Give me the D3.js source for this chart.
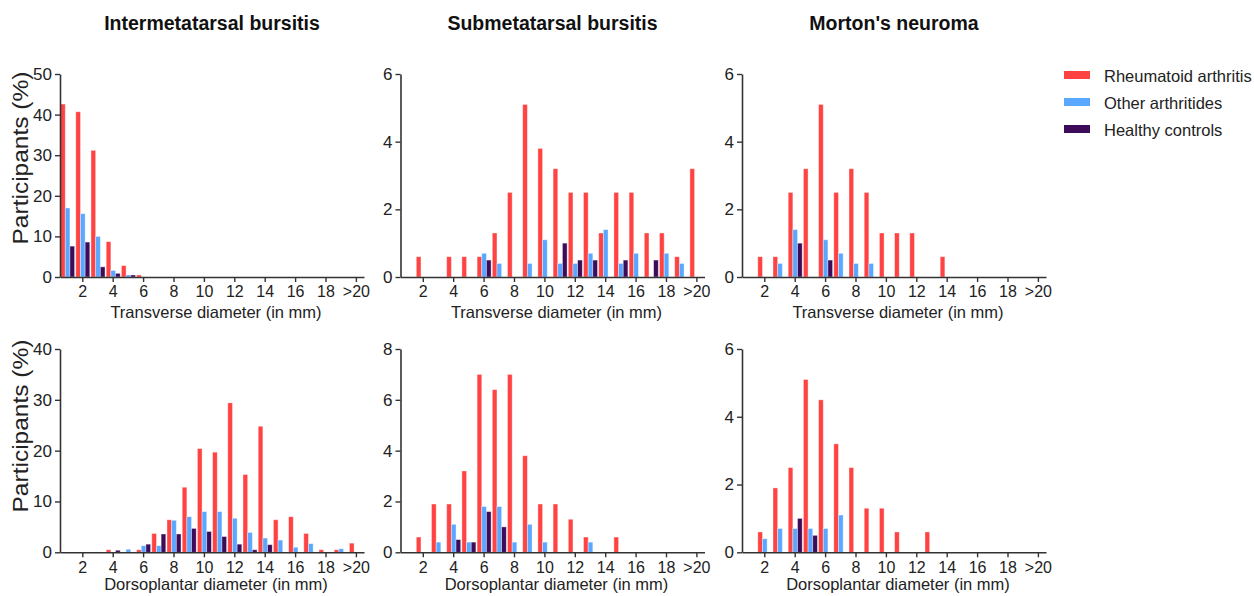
<!DOCTYPE html>
<html>
<head>
<meta charset="utf-8">
<script src="https://cdn.jsdelivr.net/npm/d3@7"></script>
<style>
  html, body { margin: 0; padding: 0; background: #fff; }
  svg { display: block; font-family: "Liberation Sans", Arial, sans-serif; }
</style>
</head>
<body>
<svg id="chart" width="1254" height="596"></svg>
<script>
// ---------- data ----------
const categories = [1,2,3,4,5,6,7,8,9,10,11,12,13,14,15,16,17,18,19,20];
const tickCategories = [2,4,6,8,10,12,14,16,18,20];
const tickLabels = ["2","4","6","8","10","12","14","16","18",">20"];
const seriesNames = ["Rheumatoid arthritis", "Other arthritides", "Healthy controls"];
const columnTitles = ["Intermetatarsal bursitis", "Submetatarsal bursitis", "Morton's neuroma"];
const rowAxisLabels = ["Transverse diameter (in mm)", "Dorsoplantar diameter (in mm)"];
const yLabel = "Participants (%)";

// Intermetatarsal bursitis – transverse
const imbTransRA = [42.6,40.7,31.2,8.7,2.8,0.5,0,0,0,0,0,0,0,0,0,0,0,0,0,0];
const imbTransOA = [17.0,15.6,10.0,1.6,0.5,0,0,0,0,0,0,0,0,0,0,0,0,0,0,0];
const imbTransHC = [7.6,8.6,2.5,0.9,0.5,0,0,0,0,0,0,0,0,0,0,0,0,0,0,0];
// Submetatarsal bursitis – transverse
const smbTransRA = [0,0.6,0,0.6,0.6,0.6,1.3,2.5,5.1,3.8,3.2,2.5,2.5,1.3,2.5,2.5,1.3,1.3,0.6,3.2];
const smbTransOA = [0,0,0,0,0,0.7,0.4,0,0.4,1.1,0.4,0.4,0.7,1.4,0.4,0.7,0,0.7,0.4,0];
const smbTransHC = [0,0,0,0,0,0.5,0,0,0,0,1.0,0.5,0.5,0,0.5,0,0.5,0,0,0];
// Morton's neuroma – transverse
const mnTransRA = [0,0.6,0.6,2.5,3.2,5.1,2.5,3.2,2.5,1.3,1.3,1.3,0,0.6,0,0,0,0,0,0];
const mnTransOA = [0,0,0.4,1.4,0,1.1,0.7,0.4,0.4,0,0,0,0,0,0,0,0,0,0,0];
const mnTransHC = [0,0,0,1.0,0,0.5,0,0,0,0,0,0,0,0,0,0,0,0,0,0];
// Intermetatarsal bursitis – dorsoplantar
const imbDorsRA = [0,0,0,0.5,0,0.5,3.7,6.4,12.8,20.4,19.7,29.4,15.3,24.8,6.4,7.0,3.7,0.5,0.5,1.8];
const imbDorsOA = [0,0,0,0,0.6,1.3,1.3,6.3,7.0,8.0,8.0,6.7,3.9,2.8,2.4,1.0,1.7,0,0.7,0];
const imbDorsHC = [0,0,0,0.4,0,1.6,3.6,3.6,4.7,4.1,3.1,1.6,0.5,1.5,0,0,0,0,0,0];
// Submetatarsal bursitis – dorsoplantar
const smbDorsRA = [0,0.6,1.9,1.9,3.2,7.0,6.4,7.0,3.8,1.9,1.9,1.3,0.6,0,0.6,0,0,0,0,0];
const smbDorsOA = [0,0,0.4,1.1,0.4,1.8,1.8,0.4,1.1,0.4,0,0,0.4,0,0,0,0,0,0,0];
const smbDorsHC = [0,0,0,0.5,0.4,1.6,1.0,0,0,0,0,0,0,0,0,0,0,0,0,0];
// Morton's neuroma – dorsoplantar
const mnDorsRA = [0,0.6,1.9,2.5,5.1,4.5,3.2,2.5,1.3,1.3,0.6,0,0.6,0,0,0,0,0,0,0];
const mnDorsOA = [0,0.4,0.7,0.7,0.7,0.7,1.1,0,0,0,0,0,0,0,0,0,0,0,0,0];
const mnDorsHC = [0,0,0,1.0,0.5,0,0,0,0,0,0,0,0,0,0,0,0,0,0,0];

const yMax = [[50,6,6],[40,8,6]];
const yTicks = [[[0,10,20,30,40,50],[0,2,4,6],[0,2,4,6]],
                [[0,10,20,30,40],[0,2,4,6,8],[0,2,4,6]]];
const panelData = [
  [[imbTransRA,imbTransOA,imbTransHC],[smbTransRA,smbTransOA,smbTransHC],[mnTransRA,mnTransOA,mnTransHC]],
  [[imbDorsRA,imbDorsOA,imbDorsHC],[smbDorsRA,smbDorsOA,smbDorsHC],[mnDorsRA,mnDorsOA,mnDorsHC]]
];

// ---------- layout ----------
const colors = ["#ff4343", "#5aa7ff", "#3c0b59"];
const axisColor = "#333";
const panelLeft = [60, 400.5, 742];
const panelW = 304;
const rowTop = [74, 349];
const rowBottom = [277, 552.3];
const labelCenterY = [158, 426];
const axisLabelBaseline = [317.5, 590];

const svg = d3.select("#chart");

// column titles
columnTitles.forEach((t, c) => {
  svg.append("text")
    .attr("x", panelLeft[c] + panelW / 2)
    .attr("y", 29.5)
    .attr("text-anchor", "middle")
    .attr("font-size", 19.5)
    .attr("font-weight", "bold")
    .attr("fill", "#111")
    .text(t);
});

for (let r = 0; r < 2; r++) {
  for (let c = 0; c < 3; c++) {
    const x0 = panelLeft[c];
    const x = d3.scaleBand()
      .domain(categories)
      .range([x0, x0 + panelW])
      .paddingInner(0.08)
      .paddingOuter(0.04);
    const xs = d3.scaleBand()
      .domain([0,1,2])
      .range([0, x.bandwidth()]);
    const y = d3.scaleLinear()
      .domain([0, yMax[r][c]])
      .range([rowBottom[r], rowTop[r]]);

    const g = svg.append("g");

    // bars
    panelData[r][c].forEach((vals, s) => {
      g.append("g").selectAll("rect")
        .data(categories.map((cat, i) => ({cat, v: vals[i]})).filter(d => d.v > 0))
        .join("rect")
        .attr("x", d => x(d.cat) + xs(s))
        .attr("width", xs.bandwidth())
        .attr("y", d => y(d.v))
        .attr("height", d => y(0) - y(d.v))
        .attr("fill", colors[s])
        .attr("stroke", "#fff")
        .attr("stroke-opacity", 0.45)
        .attr("stroke-width", 0.8);
    });

    // x axis
    const xAxis = d3.axisBottom(x)
      .tickValues(tickCategories)
      .tickFormat((d, i) => tickLabels[i])
      .tickSize(5)
      .tickSizeOuter(0)
      .tickPadding(4);
    const gx = g.append("g")
      .attr("transform", `translate(0,${rowBottom[r]})`)
      .call(xAxis);
    gx.select(".domain").attr("stroke", axisColor).attr("stroke-width", 1.6);
    gx.selectAll(".tick line").attr("stroke", axisColor).attr("stroke-width", 1.4);
    gx.selectAll(".tick text")
      .attr("font-size", 16)
      .attr("fill", "#222")
      .attr("font-family", "Liberation Sans, Arial, sans-serif");

    // y axis
    const yAxis = d3.axisLeft(y)
      .tickValues(yTicks[r][c])
      .tickFormat(d3.format("d"))
      .tickSize(5)
      .tickSizeOuter(0)
      .tickPadding(3);
    const gy = g.append("g")
      .attr("transform", `translate(${x0},0)`)
      .call(yAxis);
    gy.select(".domain").attr("stroke", axisColor).attr("stroke-width", 1.6);
    gy.selectAll(".tick line").attr("stroke", axisColor).attr("stroke-width", 1.4);
    gy.selectAll(".tick text")
      .attr("font-size", 17)
      .attr("fill", "#222")
      .attr("font-family", "Liberation Sans, Arial, sans-serif");

    // x axis label
    g.append("text")
      .attr("x", x0 + panelW / 2 + 4)
      .attr("y", axisLabelBaseline[r])
      .attr("text-anchor", "middle")
      .attr("font-size", 16.5)
      .attr("fill", "#222")
      .text(rowAxisLabels[r]);

    // y axis label (first column only)
    if (c === 0) {
      g.append("text")
        .attr("transform", `translate(28,${labelCenterY[r]}) rotate(-90)`)
        .attr("text-anchor", "middle")
        .attr("font-size", 22)
        .attr("fill", "#222")
        .attr("textLength", 173)
        .attr("lengthAdjust", "spacingAndGlyphs")
        .text(yLabel);
    }
  }
}

// legend
const legend = svg.append("g");
seriesNames.forEach((name, i) => {
  const cy = 75 + i * 27;
  legend.append("rect")
    .attr("x", 1064).attr("y", cy - 4)
    .attr("width", 26).attr("height", 8)
    .attr("fill", colors[i]);
  legend.append("text")
    .attr("x", 1104).attr("y", cy + 6.5)
    .attr("font-size", 16.5)
    .attr("fill", "#222")
    .text(name);
});
</script>
</body>
</html>
